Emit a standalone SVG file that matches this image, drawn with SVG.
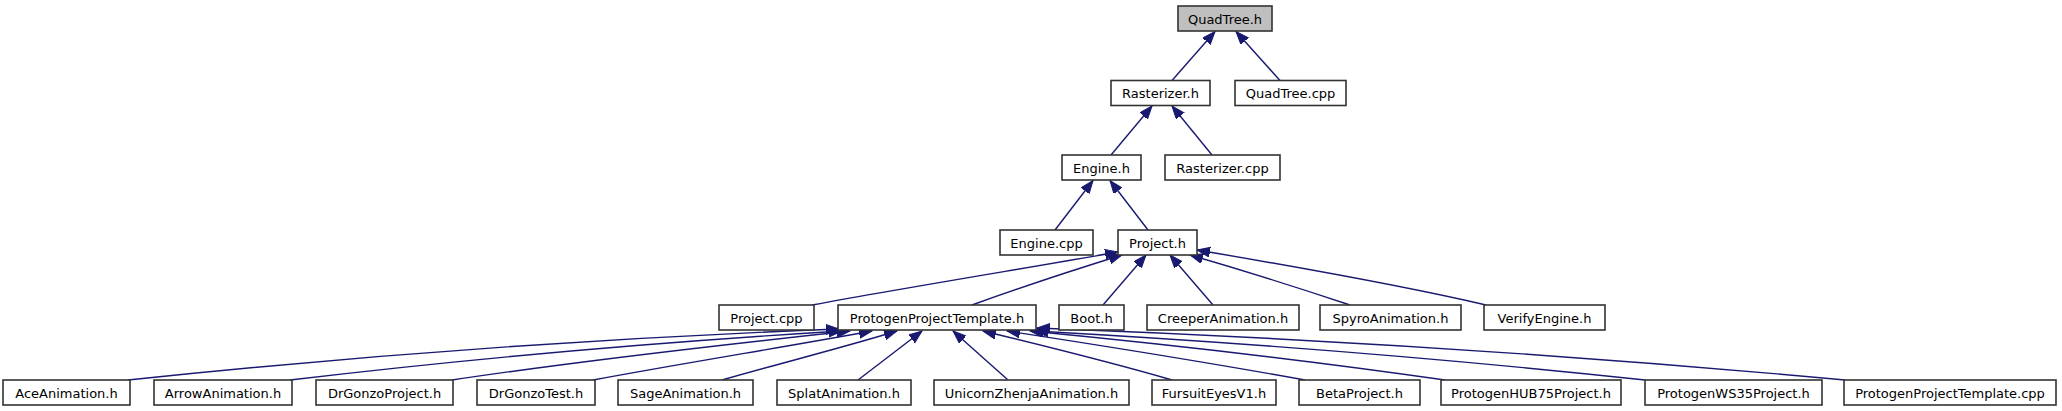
<svg xmlns="http://www.w3.org/2000/svg" width="2062" height="411" viewBox="0 0 2062 411">
<style>
.n rect{fill:#ffffff;stroke:#333333;stroke-width:1.6}
.n.root rect{fill:#bfbfbf}
.n text{font-family:"DejaVu Sans","Noto Sans",sans-serif;font-size:13px;fill:#000;text-anchor:middle}
.e path{fill:none;stroke:#191970;stroke-width:1.4;marker-end:url(#ah)}
</style>
<defs>
<marker id="ah" markerWidth="16" markerHeight="12" refX="13" refY="5" orient="auto" markerUnits="userSpaceOnUse">
<path d="M0,0 L13,5 L0,10 z" fill="#191970" stroke="#191970" stroke-width="1"/>
</marker>
</defs>
<rect width="2062" height="411" fill="#ffffff"/>
<g id="edges" class="e">
<path d="M1172,80.5 L1215,31.5"/>
<path d="M1280,80.5 L1236,31.5"/>
<path d="M1111,155 L1152,106"/>
<path d="M1212,155 L1172,106"/>
<path d="M1055,230 L1093,180.5"/>
<path d="M1148,230 L1110,180.5"/>
<path d="M812,305 C 920,285 1040,266 1118,252"/>
<path d="M972,305 C 1030,284 1080,268 1122,255"/>
<path d="M1103,305 L1146,255"/>
<path d="M1213,305 L1170,255"/>
<path d="M1350,305 C 1290,285 1235,268 1190,255"/>
<path d="M1486,305 C 1400,285 1280,264 1197,250"/>
<path d="M128,380 C 365,355 600,338 839,329"/>
<path d="M290,380 C 475,358 660,342 842,331"/>
<path d="M452,380 C 585,360 720,345 850,331"/>
<path d="M593,380 C 690,362 785,347 872,331"/>
<path d="M722,380 C 785,362 845,347 897,331"/>
<path d="M858,380 L922,331"/>
<path d="M1008,380 L953,331"/>
<path d="M1172,380 C 1110,362 1045,346 983,331"/>
<path d="M1305,380 C 1205,362 1105,346 1007,331"/>
<path d="M1445,380 C 1305,360 1165,344 1030,331"/>
<path d="M1645,380 C 1440,358 1235,342 1035,331"/>
<path d="M1845,380 C 1575,355 1305,338 1037,328"/>
</g>
<g id="n0" class="n root"><rect x="1178" y="6" width="94" height="25"/><text x="1225" y="23.5">QuadTree.h</text></g>
<g id="n1" class="n"><rect x="1111" y="80.5" width="99" height="25"/><text x="1160.5" y="98">Rasterizer.h</text></g>
<g id="n2" class="n"><rect x="1235" y="80.5" width="111" height="25"/><text x="1290.5" y="98">QuadTree.cpp</text></g>
<g id="n3" class="n"><rect x="1062" y="155" width="79" height="25"/><text x="1101.5" y="172.5">Engine.h</text></g>
<g id="n4" class="n"><rect x="1165" y="155" width="115" height="25"/><text x="1222.5" y="172.5">Rasterizer.cpp</text></g>
<g id="n5" class="n"><rect x="1000" y="230" width="93" height="25"/><text x="1046.5" y="247.5">Engine.cpp</text></g>
<g id="n6" class="n"><rect x="1118" y="230" width="79" height="25"/><text x="1157.5" y="247.5">Project.h</text></g>
<g id="n7" class="n"><rect x="719" y="305" width="95" height="25"/><text x="766.5" y="322.5">Project.cpp</text></g>
<g id="n8" class="n"><rect x="838" y="305" width="198" height="25"/><text x="937" y="322.5">ProtogenProjectTemplate.h</text></g>
<g id="n9" class="n"><rect x="1059" y="305" width="65" height="25"/><text x="1091.5" y="322.5">Boot.h</text></g>
<g id="n10" class="n"><rect x="1147" y="305" width="152" height="25"/><text x="1223" y="322.5">CreeperAnimation.h</text></g>
<g id="n11" class="n"><rect x="1320" y="305" width="141" height="25"/><text x="1390.5" y="322.5">SpyroAnimation.h</text></g>
<g id="n12" class="n"><rect x="1484" y="305" width="121" height="25"/><text x="1544.5" y="322.5">VerifyEngine.h</text></g>
<g id="n13" class="n"><rect x="3" y="380" width="127" height="25"/><text x="66.5" y="397.5">AceAnimation.h</text></g>
<g id="n14" class="n"><rect x="154" y="380" width="138" height="25"/><text x="223" y="397.5">ArrowAnimation.h</text></g>
<g id="n15" class="n"><rect x="316" y="380" width="137" height="25"/><text x="384.5" y="397.5">DrGonzoProject.h</text></g>
<g id="n16" class="n"><rect x="477" y="380" width="118" height="25"/><text x="536" y="397.5">DrGonzoTest.h</text></g>
<g id="n17" class="n"><rect x="618" y="380" width="135" height="25"/><text x="685.5" y="397.5">SageAnimation.h</text></g>
<g id="n18" class="n"><rect x="777" y="380" width="134" height="25"/><text x="844" y="397.5">SplatAnimation.h</text></g>
<g id="n19" class="n"><rect x="934" y="380" width="195" height="25"/><text x="1031.5" y="397.5">UnicornZhenjaAnimation.h</text></g>
<g id="n20" class="n"><rect x="1152" y="380" width="124" height="25"/><text x="1214" y="397.5">FursuitEyesV1.h</text></g>
<g id="n21" class="n"><rect x="1299" y="380" width="121" height="25"/><text x="1359.5" y="397.5">BetaProject.h</text></g>
<g id="n22" class="n"><rect x="1441" y="380" width="180" height="25"/><text x="1531" y="397.5">ProtogenHUB75Project.h</text></g>
<g id="n23" class="n"><rect x="1645" y="380" width="177" height="25"/><text x="1733.5" y="397.5">ProtogenWS35Project.h</text></g>
<g id="n24" class="n"><rect x="1844" y="380" width="212" height="25"/><text x="1950" y="397.5">ProtogenProjectTemplate.cpp</text></g>
</svg>
